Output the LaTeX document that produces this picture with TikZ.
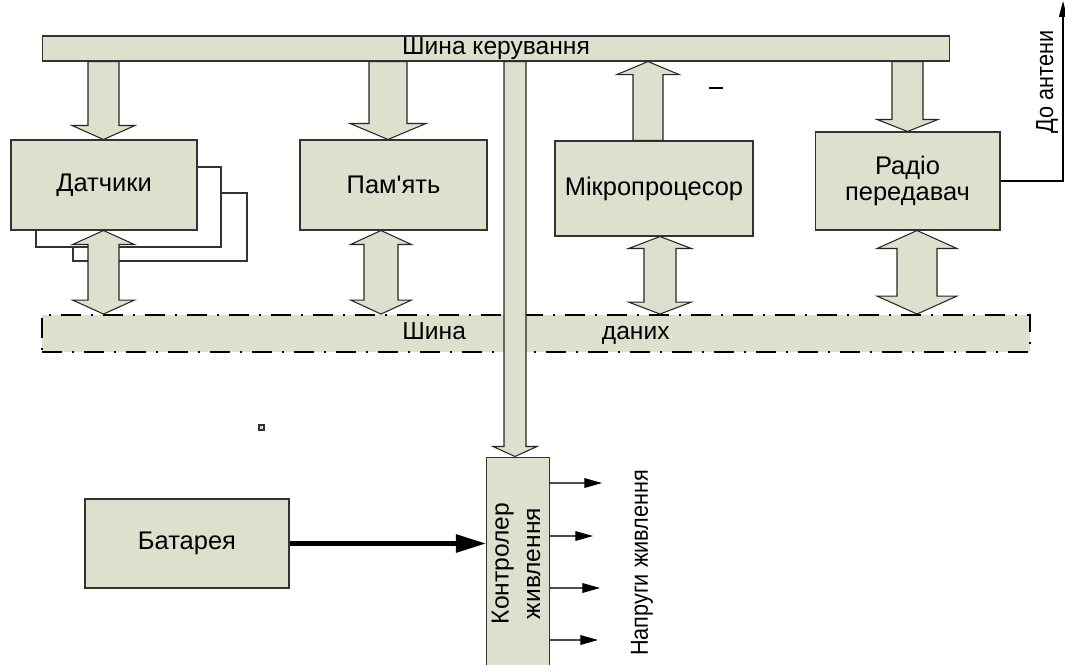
\documentclass[tikz,border=0pt]{standalone}
\usepackage{fontspec}
\usepackage{graphicx}
\setmainfont{Liberation Sans}
\usetikzlibrary{calc,arrows.meta}
\definecolor{boxfill}{RGB}{221,224,204}
\tikzset{
  box/.style={draw=black!80, fill=boxfill, line width=0.6pt, inner sep=0pt, align=center},
  busbox/.style={draw=black, fill=boxfill, line width=1.1pt, inner sep=0pt,
    dash pattern=on 0.4cm off 0.2cm on 0.04cm off 0.2cm},
  fatarr/.style={draw=black!85, fill=boxfill, line width=0.6pt},
  outarr/.style={draw=black!70, line width=0.6pt, -{Triangle[length=10pt,width=5.5pt,black]}},
  sidelbl/.style={rotate=90, font=\fontsize{14}{16}\selectfont},
}
\newcommand{\narrow}[1]{\scalebox{0.88}[1]{#1}}
% #1 x, #2 half shaft, #3 half head, #4 head length, #5 tail, #6 tip
\newcommand{\fatarrow}[6]{%
  \draw[fatarr] let \p1=(#5), \p2=(#6), \p3=($(0pt,\y2)!#4!(0pt,\y1)$) in
    ({#1-#2},\y1) -- ({#1-#2},\y3) -- ({#1-#3},\y3) -- ({#1},\y2)
    -- ({#1+#3},\y3) -- ({#1+#2},\y3) -- ({#1+#2},\y1) -- cycle;}
\newcommand{\dblarrow}[6]{%
  \draw[fatarr] let \p1=(#5), \p2=(#6), \p3=($(0pt,\y1)!#4!(0pt,\y2)$),
    \p4=($(0pt,\y2)!#4!(0pt,\y1)$) in
    ({#1},\y1) -- ({#1+#3},\y3) -- ({#1+#2},\y3) -- ({#1+#2},\y4)
    -- ({#1+#3},\y4) -- ({#1},\y2) -- ({#1-#3},\y4) -- ({#1-#2},\y4)
    -- ({#1-#2},\y3) -- ({#1-#3},\y3) -- cycle;}
\begin{document}
\begin{tikzpicture}[x=0.02cm, y=-0.02cm, font=\fontsize{14.5}{17}\selectfont]
    \useasboundingbox (0,0) rectangle (1065,664);
    \node[box, minimum width=18.16cm, minimum height=0.5cm, font=\fontsize{14}{16}\selectfont] (ctrlbus) at (496,48.5) {Шина керування};

    \draw[fill=white, draw=black!80, line width=0.6pt] (73,193) rectangle (247,261);
    \draw[fill=white, draw=black!80, line width=0.6pt] (36,167) rectangle (221,247);

    \node[box, minimum width=3.72cm, minimum height=1.8cm] (dat) at (104,185) {Датчики};
    \node[box, minimum width=3.74cm, minimum height=1.8cm] (mem) at (393.5,185) {Пам\textquotesingle ять};
    \node[box, minimum width=3.96cm, minimum height=1.9cm] (cpu) at (654,188.5) {Мікропроцесор};
    \node[box, minimum width=3.7cm, minimum height=1.96cm, font=\fontsize{14.5}{15}\selectfont] (radio) at (907.5,181) {Радіо\\передавач};
    \node[busbox, minimum width=19.76cm, minimum height=0.74cm, font=\fontsize{14}{16}\selectfont] (databus) at (536,333.5) {Шина\hspace{2.72cm}даних};
    \node[box, minimum width=4.08cm, minimum height=1.78cm] (bat) at (187,543.5) {Батарея};
    \node[box, minimum width=1.24cm, minimum height=4.26cm, font=\fontsize{14}{18}\selectfont] (pwr) at (518,563.5)
        {\rotatebox{90}{\begin{tabular}{@{}c@{}}Контролер\\живлення\end{tabular}}};

    \fatarrow{103.5}{15.5}{31.5}{0.28cm}{ctrlbus.south}{dat.north}
    \fatarrow{388}{19}{38}{0.32cm}{ctrlbus.south}{mem.north}
    \fatarrow{648}{15}{31}{0.26cm}{cpu.north}{ctrlbus.south}
    \fatarrow{907.5}{15.5}{30.5}{0.24cm}{ctrlbus.south}{radio.north}

    \dblarrow{103.5}{15.5}{31}{0.28cm}{dat.south}{databus.north}
    \dblarrow{381}{17}{30.5}{0.28cm}{mem.south}{databus.north}
    \dblarrow{660}{16}{31.5}{0.24cm}{cpu.south}{databus.north}
    \dblarrow{917}{20}{40}{0.36cm}{radio.south}{databus.north}

    \fatarrow{515}{11}{22}{0.2cm}{ctrlbus.south}{pwr.north}

    \coordinate (ant) at (1063,1);
    \draw[line width=0.6pt, -{Triangle[length=9pt,width=4.5pt]}] (radio.east) -| (ant);
    \node[sidelbl] (antlbl) at (1047,82) {\narrow{До антени}};

    \draw[line width=2.3pt, -{Triangle[length=17pt,width=10pt]}] (bat.east) -- (pwr.west |- bat.east);

    \coordinate (o1) at (602,483);
    \coordinate (o2) at (593,536);
    \coordinate (o3) at (600,588);
    \coordinate (o4) at (598,640);
    \foreach \o in {o1,o2,o3,o4}
        \draw[outarr] (pwr.east |- \o) -- (\o);
    \node[sidelbl] (vlbl) at (642,563) {\narrow{Напруги живлення}};

    \draw[line width=0.6pt] (709,88) -- (723,88);
    \draw[fill=boxfill, draw=black!80, line width=0.6pt] (259,425) rectangle (264,430);
\end{tikzpicture}
\end{document}
